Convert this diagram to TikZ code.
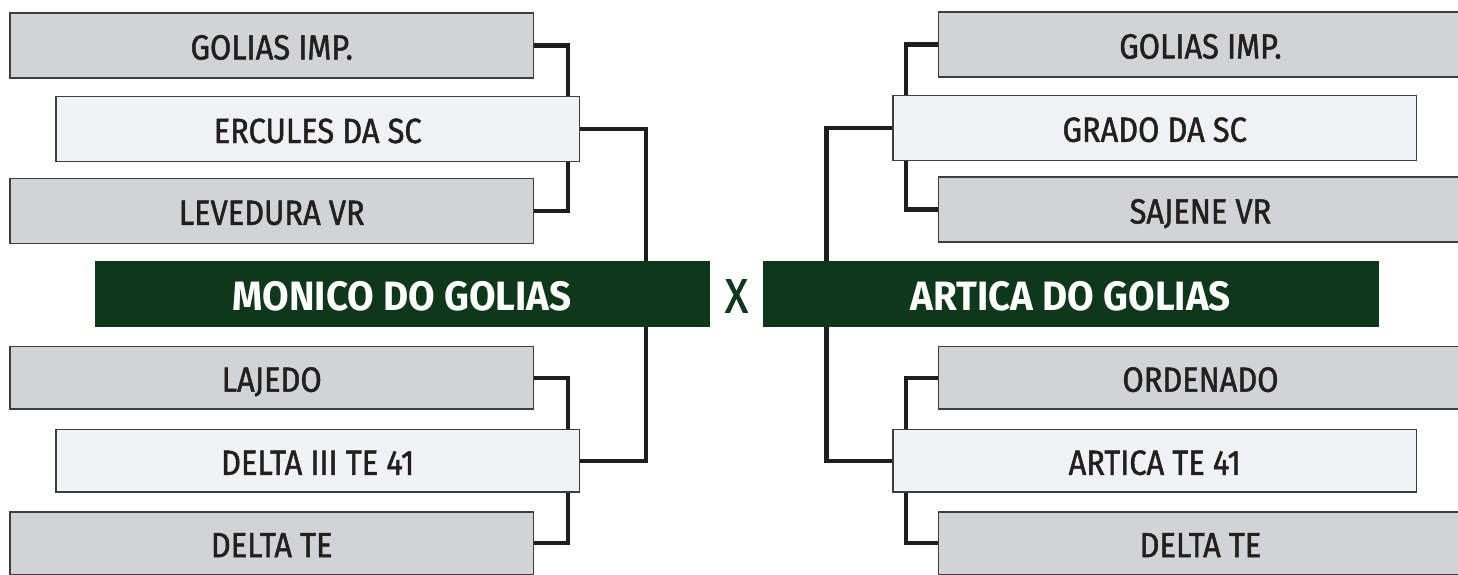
\documentclass[tikz,border=0pt]{standalone}
\usepackage{fontspec}
\setmainfont{Fira Sans}[FakeStretch=0.85]
\newfontfamily\boxfont{Fira Sans}[FakeStretch=0.88, FakeBold=1.3]
\newfontfamily\finalfont{Fira Sans}[FakeStretch=0.94]
\newfontfamily\vsfont{Fira Sans}[FakeStretch=0.88, FakeBold=1.5]
\usetikzlibrary{calc}
\definecolor{boxgray}{HTML}{D1D3D4}
\definecolor{boxlight}{HTML}{F1F2F4}
\definecolor{boxline}{HTML}{3E3E3E}
\definecolor{darkgreen}{HTML}{0F381B}
\definecolor{txt}{HTML}{231F20}
\definecolor{wire}{HTML}{1E1E1E}
\begin{document}
\begin{tikzpicture}[x=1pt,y=-1pt,
  teambox/.style={draw=boxline, line width=1.3pt, fill=boxgray, minimum width=523.5pt, minimum height=65pt,
    inner sep=0pt, text=txt, font=\boxfont\fontsize{35}{35}\selectfont, text height=28pt, text depth=0pt},
  teamlow/.style={teambox, minimum height=62.5pt},
  semibox/.style={teambox, fill=boxlight},
  semilow/.style={teamlow, fill=boxlight},
  finalbox/.style={fill=darkgreen, draw=none, minimum height=65.7pt, inner sep=0pt, text=white,
    font=\finalfont\fontsize{41}{41}\selectfont\bfseries, text height=33pt, text depth=0pt},
  wirelink/.style={draw=wire, line width=4.3pt, line join=miter, line cap=butt}]
\useasboundingbox (0,0) rectangle (1458,574);
\clip (0,0) rectangle (1458,574);
\fill[white] (0,0) rectangle (1458,574);

% left side
\node[teambox] (L1) at (271.75,45.5) {GOLIAS IMP.};
\node[semibox] (L2) at (317.75,129) {ERCULES DA SC};
\node[teambox] (L3) at (271.75,210.8) {LEVEDURA VR};
\node[finalbox, minimum width=615.5pt] (LG) at (402.25,293.85) {MONICO DO GOLIAS};
\node[teamlow] (L4) at (271.75,377.7) {LAJEDO};
\node[semilow] (L5) at (317.75,460.8) {DELTA III TE 41};
\node[teamlow] (L6) at (271.75,543.2) {DELTA TE};

% right side
\node[teambox] (R1) at (1200.5,44.5) {GOLIAS IMP.};
\node[semibox] (R2) at (1154.75,127.8) {GRADO DA SC};
\node[teambox] (R3) at (1200.5,209.5) {SAJENE VR};
\node[finalbox, minimum width=616pt] (RG) at (1071,293.85) {ARTICA DO GOLIAS};
\node[teamlow] (R4) at (1200.5,377.7) {ORDENADO};
\node[semilow] (R5) at (1154.75,460.8) {ARTICA TE 41};
\node[teamlow] (R6) at (1200.5,543.2) {DELTA TE};

\node[text=darkgreen, font=\vsfont\fontsize{48}{48}\selectfont, inner sep=0pt, text height=33pt, text depth=0pt] (VS) at (736.5,296) {X};

% left connectors
\draw[wirelink] (L1.east) -- ++(33.5,0) coordinate (a1) -- (a1 |- L2.north);
\draw[wirelink] (L3.east) -- ++(33.5,0) coordinate (a3) -- (a3 |- L2.south);
\draw[wirelink] (L2.east) -- ++(65.5,0) coordinate (a2) -- (a2 |- LG.north);
\draw[wirelink] (L4.east) -- ++(33.5,0) coordinate (a4) -- (a4 |- L5.north);
\draw[wirelink] (L6.east) -- ++(33.5,0) coordinate (a6) -- (a6 |- L5.south);
\draw[wirelink] (L5.east) -- ++(65.5,0) coordinate (a5) -- (a5 |- LG.south);

% right connectors
\draw[wirelink] (R1.west) -- ++(-32,0) coordinate (b1) -- (b1 |- R2.north);
\draw[wirelink] (R3.west) -- ++(-32,0) coordinate (b3) -- (b3 |- R2.south);
\draw[wirelink] (R2.west) -- ++(-66,0) coordinate (b2) -- (b2 |- RG.north);
\draw[wirelink] (R4.west) -- ++(-32,0) coordinate (b4) -- (b4 |- R5.north);
\draw[wirelink] (R6.west) -- ++(-32,0) coordinate (b6) -- (b6 |- R5.south);
\draw[wirelink] (R5.west) -- ++(-66,0) coordinate (b5) -- (b5 |- RG.south);
\end{tikzpicture}
\end{document}
